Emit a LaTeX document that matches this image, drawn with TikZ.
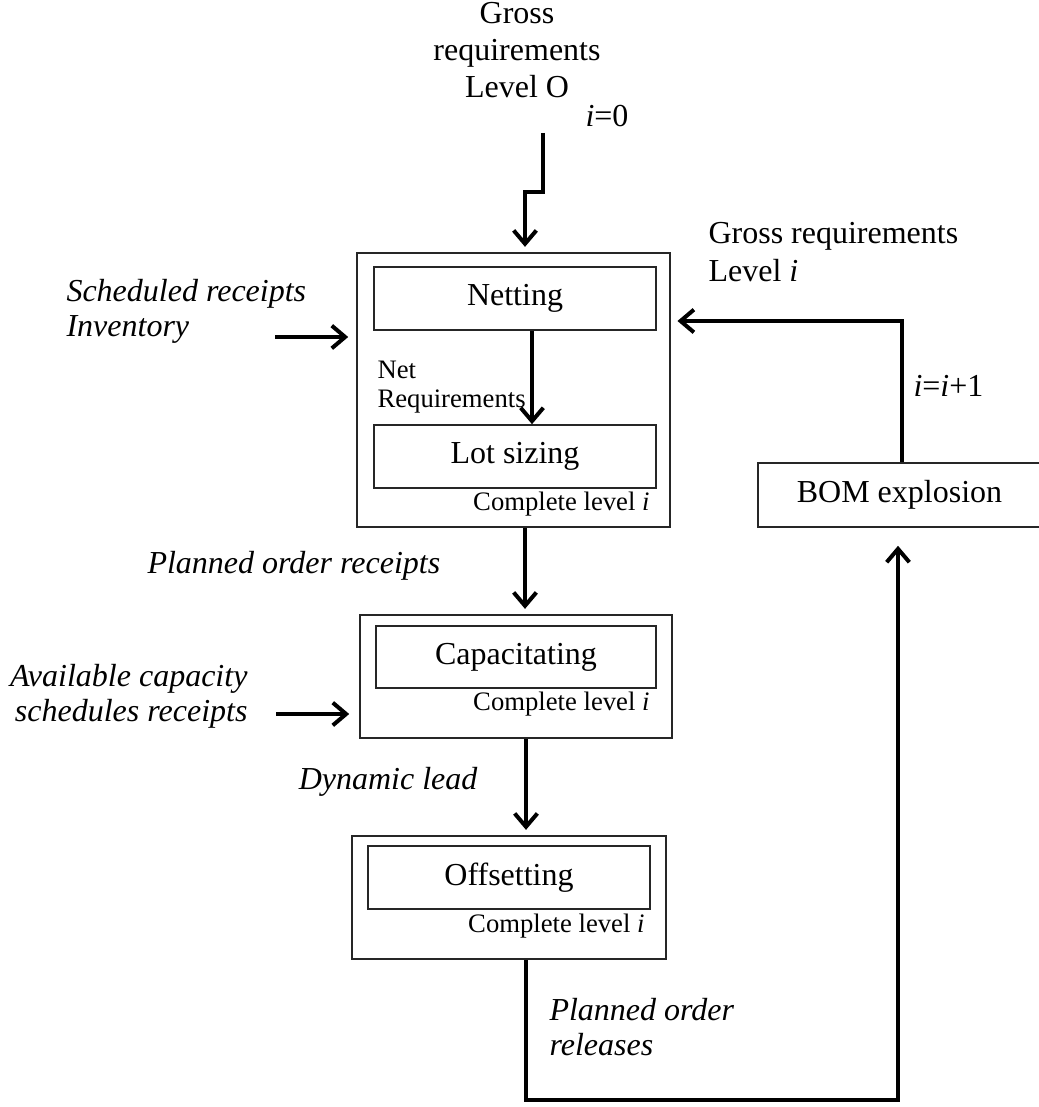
\documentclass[tikz,border=0pt]{standalone}
\usepackage{fontspec}
\setmainfont{Liberation Serif}
\usetikzlibrary{arrows.meta}
\newcommand\pxu[1]{#1*0.375pt}
\begin{document}
\begin{tikzpicture}[x=0.375pt, y=-0.375pt,
  box/.style={draw=black!85, line width=0.6pt, inner sep=0pt},
  arr/.style={line width=1.5pt, -{Straight Barb[length=5pt,width=8.5pt]}},
  lbl/.style={inner sep=0pt, font=\fontsize{12}{14}\selectfont},
  small/.style={inner sep=0pt, font=\fontsize{10}{11}\selectfont}]
\useasboundingbox (0,0) rectangle (1038,1107);

% boxes
\node[box, minimum width=\pxu{313}, minimum height=\pxu{274}] (outerA) at (513.5,390) {};
\node[box, lbl, minimum width=\pxu{282}, minimum height=\pxu{63}] (netting) at (515,298.5) {Netting};
\node[box, lbl, minimum width=\pxu{282}, minimum height=\pxu{63}] (lotsizing) at (515,456.5) {Lot sizing};
\node[small, anchor=base east] (complA) at (650,510) {Complete level \textit{i}};

\node[box, minimum width=\pxu{312}, minimum height=\pxu{123}] (outerB) at (516,676.5) {};
\node[box, lbl, minimum width=\pxu{280}, minimum height=\pxu{62}] (capac) at (516,657) {Capacitating};
\node[small, anchor=base east] (complB) at (650,710) {Complete level \textit{i}};

\node[box, minimum width=\pxu{314}, minimum height=\pxu{123}] (outerC) at (509,897.5) {};
\node[box, lbl, minimum width=\pxu{282}, minimum height=\pxu{63}] (offset) at (509,877.5) {Offsetting};
\node[small, anchor=base east] (complC) at (645,932) {Complete level \textit{i}};

\node[box, lbl, minimum width=\pxu{283}, minimum height=\pxu{64}] (bom) at (899.5,495) {BOM explosion};

% labels
\node[lbl, anchor=base] (g1) at (517,24) {Gross};
\node[lbl, anchor=base] (g2) at (517,61) {requirements};
\node[lbl, anchor=base] (g3) at (517,98) {Level O};
\node[lbl, anchor=base west] (i0) at (585,127) {\textit{i}=0};

\node[lbl, anchor=base west] (gr1) at (708,244) {Gross requirements};
\node[lbl, anchor=base west] (gr2) at (708,282) {Level \textit{i}};
\node[lbl, anchor=base west] (inc) at (913,397) {\textit{i}=\textit{i}+1};

\node[lbl, anchor=base west] (sr1) at (66,302) {\textit{Scheduled receipts}};
\node[lbl, anchor=base west] (sr2) at (66,337) {\textit{Inventory}};

\node[small, anchor=base west] (nr1) at (377,379) {Net};
\node[small, anchor=base west] (nr2) at (377,408) {Requirements};

\node[lbl, anchor=base west] (por) at (147,573) {\textit{Planned order receipts}};

\node[lbl, anchor=base east] (ac1) at (248,686) {\textit{Available capacity}};
\node[lbl, anchor=base east] (ac2) at (248,721) {\textit{schedules receipts}};

\node[lbl, anchor=base east] (dl) at (478,789) {\textit{Dynamic lead}};

\node[lbl, anchor=base west] (pol1) at (549,1020) {\textit{Planned order}};
\node[lbl, anchor=base west] (pol2) at (549,1055) {\textit{releases}};

% connectors
\coordinate (z0) at (543,133);
\coordinate (z1) at (525,192);
\draw[arr, shorten >=2pt] (z0) |- (z1) -- (z1 |- outerA.north);

\draw[arr] ([xshift=\pxu{17}]netting.south) -- ([xshift=\pxu{17}]lotsizing.north);

\coordinate (in1) at (275,337);
\draw[arr, shorten >=3pt] (in1) -- (in1 -| outerA.west);

\coordinate (fb) at (902,321);
\draw[arr, shorten >=2.5pt] (fb |- bom.north) -- (fb) -- (fb -| outerA.east);

\coordinate (c1) at (525,560);
\draw[arr, shorten >=2pt] (c1 |- outerA.south) -- (c1 |- outerB.north);

\coordinate (in2) at (276,714);
\draw[arr, shorten >=3.75pt] (in2) -- (in2 -| outerB.west);

\coordinate (c2) at (526,790);
\draw[arr, shorten >=2pt] (c2 |- outerB.south) -- (c2 |- outerC.north);

\coordinate (bl) at (526,1100);
\coordinate (br) at (898,1100);
\draw[arr, shorten >=6.75pt] (bl |- outerC.south) -- (bl) -- (br) -- (br |- bom.south);
\end{tikzpicture}
\end{document}
